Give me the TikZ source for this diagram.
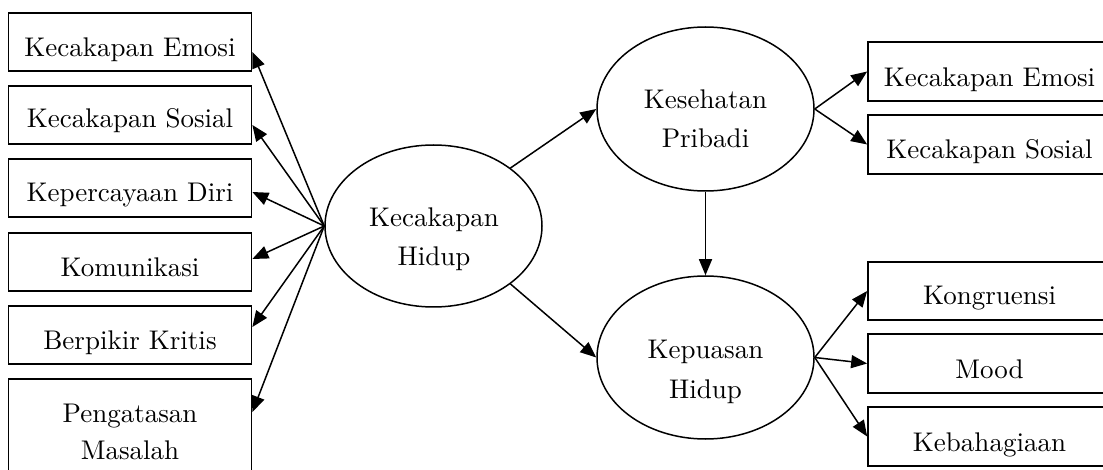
\documentclass[tikz,border=0pt]{standalone}
\usepackage{fontspec}
\usetikzlibrary{arrows.meta,shapes.geometric}
\newcommand\dfont{\fontsize{10}{14.8}\selectfont}
\begin{document}
\begin{tikzpicture}[x=1pt,y=-1pt,
  box/.style={draw, line width=1.7pt, rectangle, inner sep=0pt, minimum width=243pt},
  oval/.style={draw, line width=1.5pt, ellipse, inner sep=0pt, minimum width=217pt},
  lbl/.style={anchor=base, inner sep=0pt, font=\dfont, align=center, scale=2.7},
  arr/.style={line width=1.5pt, -{Triangle[length=16pt,width=13pt]}},
]
\useasboundingbox (0,0) rectangle (1103,470);
\clip (0,0) rectangle (1103,470);
% left boxes
\node[box, minimum height=58pt] (l1) at (130,42) {};
\node[box, minimum height=58pt] (l2) at (130,115) {};
\node[box, minimum height=58pt] (l3) at (130,188) {};
\node[box, minimum height=58pt] (l4) at (130,262) {};
\node[box, minimum height=58pt] (l5) at (130,335) {};
\node[box, minimum height=111pt] (l6) at (130,434.5) {};
\node[lbl] (t1) at (130,57) {Kecakapan Emosi};
\node[lbl] (t2) at (130,128) {Kecakapan Sosial};
\node[lbl] (t3) at (130,202) {Kepercayaan Diri};
\node[lbl] (t4) at (130,277) {Komunikasi};
\node[lbl] (t5) at (130,349) {Berpikir Kritis};
\node[lbl, font=\fontsize{10}{13.4}\selectfont] (t6) at (130,459) {Pengatasan\\Masalah};
% ellipses
\node[oval, minimum height=162pt] (kh) at (433.5,226) {};
\node[oval, minimum height=164pt] (ks) at (705.5,109) {};
\node[oval, minimum height=163pt] (kp) at (705.5,357.5) {};
\node[lbl] (tkh) at (434,266) {Kecakapan\\Hidup};
\node[lbl] (tks) at (705.5,148) {Kesehatan\\Pribadi};
\node[lbl] (tkp) at (705.5,398) {Kepuasan\\Hidup};
% right boxes
\node[box, minimum height=59pt] (r1) at (989.5,71.5) {};
\node[box, minimum height=59pt] (r2) at (989.5,144.5) {};
\node[box, minimum height=58pt] (r3) at (989.5,291) {};
\node[box, minimum height=59pt] (r4) at (989.5,363.5) {};
\node[box, minimum height=59pt] (r5) at (989.5,436.5) {};
\node[lbl] (u1) at (989.5,87) {Kecakapan Emosi};
\node[lbl] (u2) at (989.5,159) {Kecakapan Sosial};
\node[lbl] (u3) at (989.5,305) {Kongruensi};
\node[lbl] (u4) at (989.5,378) {Mood};
\node[lbl] (u5) at (989.5,451) {Kebahagiaan};
% connectors
\draw[arr] (kh.west) -- ([yshift=-10pt]l1.east);
\draw[arr] (kh.west) -- ([yshift=-10pt]l2.east);
\draw[arr] (kh.west) -- ([yshift=-4pt]l3.east);
\draw[arr] (kh.west) -- ([yshift=3pt]l4.east);
\draw[arr] (kh.west) -- ([yshift=8pt]l5.east);
\draw[arr] (kh.west) -- ([yshift=-34pt]l6.north east);
\draw[arr] (kh.37) -- (ks.west);
\draw[arr] (kh.-37) -- (kp.west);
\draw[arr] (ks.south) -- (kp.north);
\draw[arr] (ks.east) -- (r1.west);
\draw[arr] (ks.east) -- (r2.west);
\draw[arr] (kp.east) -- (r3.west);
\draw[arr] (kp.east) -- (r4.west);
\draw[arr] (kp.east) -- (r5.west);
\end{tikzpicture}
\end{document}
